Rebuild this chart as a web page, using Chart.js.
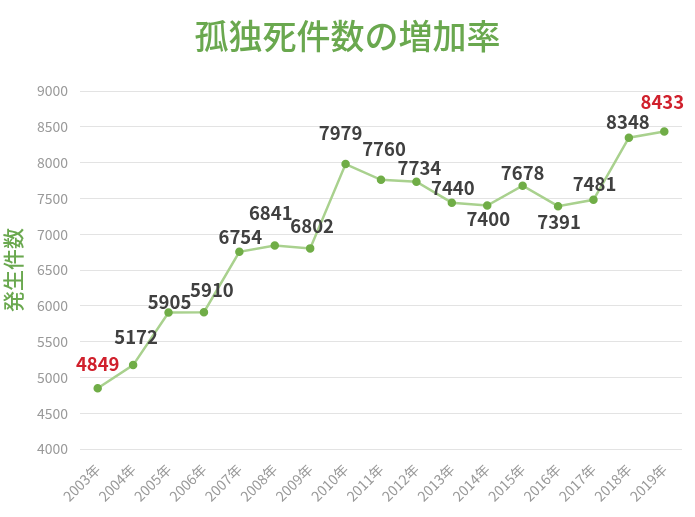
<!DOCTYPE html>
<html>
<head>
<meta charset="utf-8">
<script src="https://cdn.jsdelivr.net/npm/chart.js@4/dist/chart.umd.min.js"></script>
<style>
  html, body { margin: 0; padding: 0; background: #fff; }
  #wrap { width: 695px; height: 517px; }
</style>
</head>
<body>
<div id="wrap"><canvas id="lonelyChart"></canvas></div>
<script>
// 孤独死件数 - line chart
const years = ['2003年', '2004年', '2005年', '2006年', '2007年', '2008年', '2009年',
               '2010年', '2011年', '2012年', '2013年', '2014年', '2015年', '2016年',
               '2017年', '2018年', '2019年'];
const cases = [4849, 5172, 5905, 5910, 6754, 6841, 6802, 7979, 7760, 7734,
               7440, 7400, 7678, 7391, 7481, 8348, 8433];
const yTicks = [4000, 4500, 5000, 5500, 6000, 6500, 7000, 7500, 8000, 8500, 9000];

// where each value label sits relative to its point (px)
const labelOffsets = [
  [0, -24], [3, -28], [1, -11], [8, -22], [1, -15], [-4, -33], [2, -22],
  [-5, -31], [3, -31], [3, -14], [1, -15], [1, 13], [0, -13], [1, 16],
  [1, -16], [-1, -16], [-2, -30]
];
const highlight = [0, 16];

const FONT = '"Noto Sans CJK JP", "Noto Sans", sans-serif';
const GREEN = '#6aa84f';

const valueLabels = {
  id: 'valueLabels',
  // centre the title on the whole canvas, not on the padded box
  afterLayout(chart) {
    if (chart.titleBlock) {
      chart.titleBlock.left = 0;
      chart.titleBlock.right = chart.width;
    }
  },
  afterDatasetsDraw(chart) {
    const ctx = chart.ctx;
    const meta = chart.getDatasetMeta(0);
    ctx.save();
    ctx.font = '600 18.5px ' + FONT;
    ctx.textAlign = 'center';
    ctx.textBaseline = 'middle';
    meta.data.forEach((pt, i) => {
      const off = labelOffsets[i];
      ctx.fillStyle = highlight.includes(i) ? '#d0202c' : '#404040';
      ctx.fillText(String(cases[i]), pt.x + off[0], pt.y + off[1]);
    });
    ctx.restore();
  }
};

const chart = new Chart(document.getElementById('lonelyChart'), {
  type: 'line',
  data: {
    labels: years,
    datasets: [{
      data: cases,
      borderColor: '#a9d18e',
      borderWidth: 2.5,
      backgroundColor: '#70ad47',
      pointBackgroundColor: '#70ad47',
      pointBorderColor: '#70ad47',
      pointRadius: 3,
      tension: 0,
      fill: false
    }]
  },
  options: {
    responsive: true,
    maintainAspectRatio: false,
    animation: false,
    layout: { padding: { left: 0, right: 13, top: 0, bottom: 0 } },
    plugins: {
      legend: { display: false },
      tooltip: { enabled: false },
      title: {
        display: true,
        text: '孤独死件数の増加率',
        color: GREEN,
        font: { family: FONT, size: 34, weight: '500', lineHeight: 1.2 },
        padding: { top: 16, bottom: 34.2 }
      }
    },
    scales: {
      x: {
        offset: true,
        grid: { display: false, drawTicks: false },
        border: { display: false },
        ticks: {
          color: '#999999',
          font: { family: FONT, size: 14 },
          maxRotation: 45,
          minRotation: 45,
          padding: 12,
          autoSkip: false
        },
        afterFit: s => { s.height = 68; }
      },
      y: {
        min: 4000,
        max: 9000,
        afterBuildTicks: s => { s.ticks = yTicks.map(v => ({ value: v })); },
        grid: { color: '#e3e3e3', drawTicks: false, lineWidth: 1 },
        border: { display: false },
        ticks: {
          color: '#999999',
          font: { family: FONT, size: 14 },
          padding: 12,
          callback: v => String(v)
        },
        title: {
          display: true,
          text: '発生件数',
          color: GREEN,
          font: { family: FONT, size: 21, weight: '500' },
          padding: { top: 0, bottom: 0 }
        },
        afterFit: s => { s.width = 80; }
      }
    }
  },
  plugins: [valueLabels]
});
</script>
</body>
</html>
